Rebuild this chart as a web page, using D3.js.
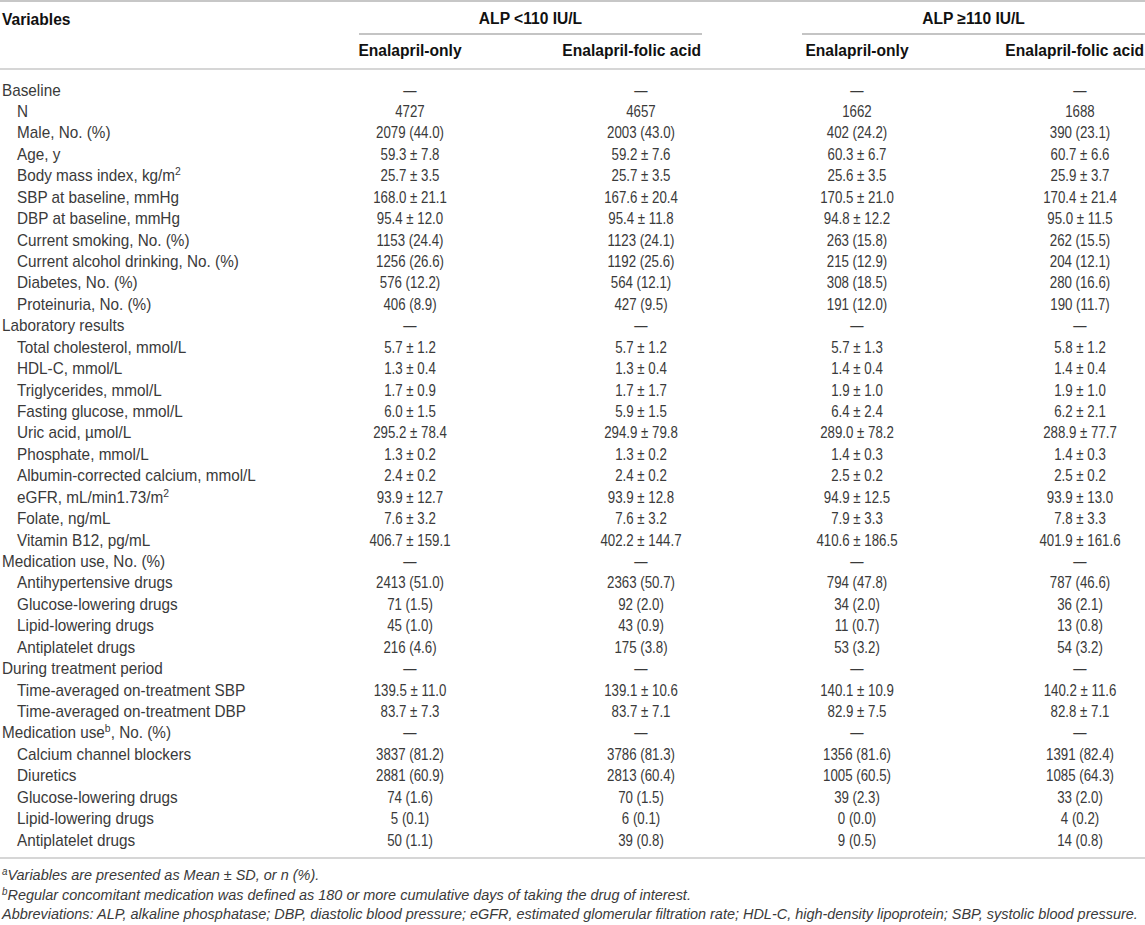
<!DOCTYPE html>
<html>
<head>
<meta charset="utf-8">
<script src="https://cdn.jsdelivr.net/npm/d3@7"></script>
<style>
  body { margin: 0; background: #fff; }
  svg { display: block; }
  .body { font-family: "Liberation Sans", Arial, sans-serif; font-size: 16px; fill: #3a3a3a; }
  .head { font-family: "Liberation Sans", Arial, sans-serif; font-size: 15.6px; font-weight: bold; fill: #111; }
  .note { font-family: "Liberation Sans", Arial, sans-serif; font-size: 15px; font-style: italic; fill: #3a3a3a; }
</style>
</head>
<body>
<div id="table"></div>
<script>
// groups and arms in the header
const groups = ["ALP <110 IU/L", "ALP \u2265110 IU/L"];
const arms = ["Enalapril-only", "Enalapril-folic acid"];

// row labels (^x marks a superscript)
const variables = [
  "Baseline", "N", "Male, No. (%)", "Age, y", "Body mass index, kg/m^2",
  "SBP at baseline, mmHg", "DBP at baseline, mmHg", "Current smoking, No. (%)",
  "Current alcohol drinking, No. (%)", "Diabetes, No. (%)", "Proteinuria, No. (%)",
  "Laboratory results", "Total cholesterol, mmol/L", "HDL-C, mmol/L", "Triglycerides, mmol/L",
  "Fasting glucose, mmol/L", "Uric acid, \u00b5mol/L", "Phosphate, mmol/L",
  "Albumin-corrected calcium, mmol/L", "eGFR, mL/min1.73/m^2", "Folate, ng/mL",
  "Vitamin B12, pg/mL", "Medication use, No. (%)", "Antihypertensive drugs",
  "Glucose-lowering drugs", "Lipid-lowering drugs", "Antiplatelet drugs",
  "During treatment period", "Time-averaged on-treatment SBP", "Time-averaged on-treatment DBP",
  "Medication use^b, No. (%)", "Calcium channel blockers", "Diuretics",
  "Glucose-lowering drugs", "Lipid-lowering drugs", "Antiplatelet drugs"
];

const sections = ["Baseline", "Laboratory results", "Medication use, No. (%)",
  "During treatment period", "Medication use^b, No. (%)"];

const lowOnly = [
  "\u2014", "4727", "2079 (44.0)", "59.3 \u00b1 7.8", "25.7 \u00b1 3.5", "168.0 \u00b1 21.1",
  "95.4 \u00b1 12.0", "1153 (24.4)", "1256 (26.6)", "576 (12.2)", "406 (8.9)",
  "\u2014", "5.7 \u00b1 1.2", "1.3 \u00b1 0.4", "1.7 \u00b1 0.9", "6.0 \u00b1 1.5",
  "295.2 \u00b1 78.4", "1.3 \u00b1 0.2", "2.4 \u00b1 0.2", "93.9 \u00b1 12.7", "7.6 \u00b1 3.2",
  "406.7 \u00b1 159.1", "\u2014", "2413 (51.0)", "71 (1.5)", "45 (1.0)", "216 (4.6)",
  "\u2014", "139.5 \u00b1 11.0", "83.7 \u00b1 7.3", "\u2014", "3837 (81.2)", "2881 (60.9)",
  "74 (1.6)", "5 (0.1)", "50 (1.1)"
];

const lowFolic = [
  "\u2014", "4657", "2003 (43.0)", "59.2 \u00b1 7.6", "25.7 \u00b1 3.5", "167.6 \u00b1 20.4",
  "95.4 \u00b1 11.8", "1123 (24.1)", "1192 (25.6)", "564 (12.1)", "427 (9.5)",
  "\u2014", "5.7 \u00b1 1.2", "1.3 \u00b1 0.4", "1.7 \u00b1 1.7", "5.9 \u00b1 1.5",
  "294.9 \u00b1 79.8", "1.3 \u00b1 0.2", "2.4 \u00b1 0.2", "93.9 \u00b1 12.8", "7.6 \u00b1 3.2",
  "402.2 \u00b1 144.7", "\u2014", "2363 (50.7)", "92 (2.0)", "43 (0.9)", "175 (3.8)",
  "\u2014", "139.1 \u00b1 10.6", "83.7 \u00b1 7.1", "\u2014", "3786 (81.3)", "2813 (60.4)",
  "70 (1.5)", "6 (0.1)", "39 (0.8)"
];

const highOnly = [
  "\u2014", "1662", "402 (24.2)", "60.3 \u00b1 6.7", "25.6 \u00b1 3.5", "170.5 \u00b1 21.0",
  "94.8 \u00b1 12.2", "263 (15.8)", "215 (12.9)", "308 (18.5)", "191 (12.0)",
  "\u2014", "5.7 \u00b1 1.3", "1.4 \u00b1 0.4", "1.9 \u00b1 1.0", "6.4 \u00b1 2.4",
  "289.0 \u00b1 78.2", "1.4 \u00b1 0.3", "2.5 \u00b1 0.2", "94.9 \u00b1 12.5", "7.9 \u00b1 3.3",
  "410.6 \u00b1 186.5", "\u2014", "794 (47.8)", "34 (2.0)", "11 (0.7)", "53 (3.2)",
  "\u2014", "140.1 \u00b1 10.9", "82.9 \u00b1 7.5", "\u2014", "1356 (81.6)", "1005 (60.5)",
  "39 (2.3)", "0 (0.0)", "9 (0.5)"
];

const highFolic = [
  "\u2014", "1688", "390 (23.1)", "60.7 \u00b1 6.6", "25.9 \u00b1 3.7", "170.4 \u00b1 21.4",
  "95.0 \u00b1 11.5", "262 (15.5)", "204 (12.1)", "280 (16.6)", "190 (11.7)",
  "\u2014", "5.8 \u00b1 1.2", "1.4 \u00b1 0.4", "1.9 \u00b1 1.0", "6.2 \u00b1 2.1",
  "288.9 \u00b1 77.7", "1.4 \u00b1 0.3", "2.5 \u00b1 0.2", "93.9 \u00b1 13.0", "7.8 \u00b1 3.3",
  "401.9 \u00b1 161.6", "\u2014", "787 (46.6)", "36 (2.1)", "13 (0.8)", "54 (3.2)",
  "\u2014", "140.2 \u00b1 11.6", "82.8 \u00b1 7.1", "\u2014", "1391 (82.4)", "1085 (64.3)",
  "33 (2.0)", "4 (0.2)", "14 (0.8)"
];

const footnotes = [
  "^aVariables are presented as Mean \u00b1 SD, or n (%).",
  "^bRegular concomitant medication was defined as 180 or more cumulative days of taking the drug of interest.",
  "Abbreviations: ALP, alkaline phosphatase; DBP, diastolic blood pressure; eGFR, estimated glomerular filtration rate; HDL-C, high-density lipoprotein; SBP, systolic blood pressure."
];

const W = 1145, H = 925;
const columns = [lowOnly, lowFolic, highOnly, highFolic];

// the source face is narrower than Liberation Sans, digits especially
const labelSqueeze = 0.957;
const cellSqueeze = 0.83;

const svg = d3.select("#table").append("svg")
  .attr("width", W).attr("height", H);

// row centres
const y = d3.scaleLinear()
  .domain([0, variables.length - 1])
  .range([90, 840]);

// column centres
const x = d3.scaleOrdinal()
  .domain(d3.range(columns.length))
  .range([410, 641, 857, 1080]);

// group rule extents
const groupX = d3.scaleOrdinal()
  .domain(d3.range(groups.length))
  .range([[359, 702], [802, W]]);

// writes text with ^x superscripts
function richText(sel, str) {
  const parts = str.split(/\^(\w)/);
  parts.forEach((p, i) => {
    if (p === "") return;
    const t = sel.append("tspan").text(p);
    if (i % 2 === 1) {
      t.attr("baseline-shift", "super").style("font-size", "0.68em");
    }
  });
}

// horizontal rules
svg.append("line").attr("x1", 0).attr("x2", W).attr("y1", 1).attr("y2", 1)
  .attr("stroke", "#b5b5b5").attr("stroke-width", 1.5);
svg.append("line").attr("x1", 0).attr("x2", W).attr("y1", 69).attr("y2", 69)
  .attr("stroke", "#c8c8c8").attr("stroke-width", 1.5);
svg.append("line").attr("x1", 0).attr("x2", W).attr("y1", 858).attr("y2", 858)
  .attr("stroke", "#c8c8c8").attr("stroke-width", 1.5);

// header
svg.append("text").attr("class", "head")
  .attr("x", 2).attr("y", 20).attr("dy", "0.35em")
  .text("Variables");

groups.forEach((g, gi) => {
  const [x0, x1] = groupX(gi);
  svg.append("line")
    .attr("x1", x0).attr("x2", x1).attr("y1", 34).attr("y2", 34)
    .attr("stroke", "#8a8a8a").attr("stroke-width", 1.2);
  svg.append("text").attr("class", "head")
    .attr("x", (x0 + x1) / 2).attr("y", 19).attr("dy", "0.35em")
    .attr("text-anchor", "middle")
    .text(g);

  arms.forEach((a, ai) => {
    const ci = gi * 2 + ai;
    const t = svg.append("text").attr("class", "head")
      .attr("y", 51).attr("dy", "0.35em")
      .attr("text-anchor", "middle")
      .text(a);
    const half = t.node().getComputedTextLength() / 2;
    t.attr("x", Math.min(x(ci), x1 - half - 1));
  });
});

// row labels
svg.append("g").selectAll("text")
  .data(variables)
  .join("text")
  .attr("class", "body")
  .attr("transform", (d, i) => `translate(${sections.includes(d) ? 2 : 17},${y(i)}) scale(${labelSqueeze},1)`)
  .attr("dy", "0.35em")
  .each(function (d) { richText(d3.select(this), d); });

// cells
columns.forEach((col, ci) => {
  svg.append("g").selectAll("text")
    .data(col)
    .join("text")
    .attr("class", "body")
    .attr("transform", (d, i) => `translate(${x(ci)},${y(i)}) scale(${cellSqueeze},1)`)
    .attr("dy", "0.35em")
    .attr("text-anchor", "middle")
    .text(d => d);
});

// footnotes, squeezed so the longest line fits the width
const noteY = d3.scaleLinear().domain([0, footnotes.length - 1]).range([875, 914]);
const notes = svg.append("g").selectAll("text")
  .data(footnotes)
  .join("text")
  .attr("class", "note")
  .attr("dy", "0.35em")
  .each(function (d) { richText(d3.select(this), d); });
const longest = d3.max(notes.nodes(), n => n.getComputedTextLength());
const noteSqueeze = Math.min(1, (W - 8) / longest);
notes.attr("transform", (d, i) => `translate(2,${noteY(i)}) scale(${noteSqueeze},1)`);
</script>
</body>
</html>
